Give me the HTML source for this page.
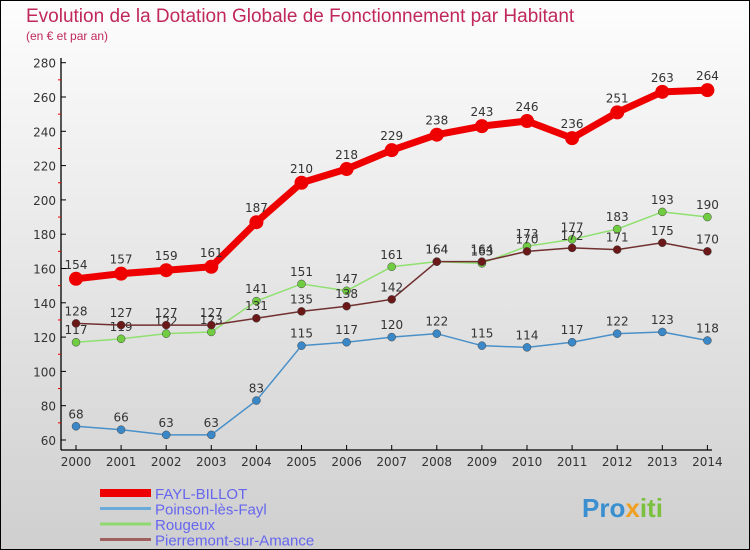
<!DOCTYPE html>
<html><head><meta charset="utf-8"><style>
body{margin:0}
#c{width:750px;height:550px;position:relative;box-sizing:border-box;border:1px solid #000;background:linear-gradient(#fdfdfd,#cfcfcf);font-family:"DejaVu Sans","Liberation Sans",sans-serif;overflow:hidden}
</style></head><body>
<div id="c">
<svg id="s" width="750" height="550" style="position:absolute;left:-1px;top:-1px">
<text x="26" y="22" font-size="19" fill="#c0285a" font-family="Liberation Sans, sans-serif">Evolution de la Dotation Globale de Fonctionnement par Habitant</text>
<text x="26" y="40" font-size="12" fill="#c0285a" font-family="Liberation Sans, sans-serif">(en € et par an)</text>
<text x="582" y="517" font-size="26" font-weight="bold" fill="#3a8fd0" font-family="Liberation Sans, sans-serif">Pro<tspan fill="#f0a020">x</tspan><tspan fill="#7cc040">iti</tspan></text>
</svg>
</div>
<script>
const years=[2000,2001,2002,2003,2004,2005,2006,2007,2008,2009,2010,2011,2012,2013,2014];
const fayl=[154,157,159,161,187,210,218,229,238,243,246,236,251,263,264];
const poinson=[68,66,63,63,83,115,117,120,122,115,114,117,122,123,118];
const rougeux=[117,119,122,123,141,151,147,161,164,163,173,177,183,193,190];
const pierre=[128,127,127,127,131,135,138,142,164,164,170,172,171,175,170];
const yTicks=[60,80,100,120,140,160,180,200,220,240,260,280];
const names=["FAYL-BILLOT","Poinson-lès-Fayl","Rougeux","Pierremont-sur-Amance"];
const s=document.getElementById('s');const NS='http://www.w3.org/2000/svg';
const X=i=>76+i*45.1, Y=v=>440-(v-60)*1.715;
function el(t,a,p){const e=document.createElementNS(NS,t);for(const k in a)e.setAttribute(k,a[k]);(p||s).appendChild(e);return e;}
let ax=el('line',{x1:61,y1:58,x2:61,y2:450,stroke:'#000','stroke-width':1.3});

let bx=el('line',{x1:61,y1:450,x2:712,y2:450,stroke:'#000','stroke-width':1.3});

yTicks.forEach(v=>{el('line',{x1:61,x2:66,y1:Y(v),y2:Y(v),stroke:'#000'});
 if(v<280)el('line',{x1:58,x2:61,y1:Y(v+10),y2:Y(v+10),stroke:'#e00'});
 const t=el('text',{x:56,y:Y(v)+5,'text-anchor':'end','font-size':12,fill:'#333'});t.textContent=v;
 });
years.forEach((y,i)=>{el('line',{x1:X(i),x2:X(i),y1:445,y2:450,stroke:'#000'});
 const t=el('text',{x:X(i),y:466,'text-anchor':'middle','font-size':12,fill:'#333'});t.textContent=y;
 });
const series=[[poinson,'#4a90c8','#3a88c8',1.5,4],[rougeux,'#90e070','#70cc40',1.5,4],[pierre,'#703030','#6a1818',1.5,4],[fayl,'#ee0000','#ee0000',7,7]];
const keys=['poinson','rougeux','pierremont','fayl'];
series.forEach(([d,c,pc,w,r],k)=>{
 const g=el('g',{});
 el('polyline',{points:d.map((v,i)=>X(i)+','+Y(v)).join(' '),fill:'none',stroke:c,'stroke-width':w,'stroke-linejoin':'round'},g);
 d.forEach((v,i)=>{const p=el('circle',{cx:X(i),cy:Y(v),r:r,fill:pc,stroke:k==3?'none':'#444','stroke-width':0.5},g);
  
  const t=el('text',{x:X(i),y:Y(v)-(k==3?10:8),'text-anchor':'middle','font-size':12,fill:'#333'},g);t.textContent=v;});
});
const lc=['#ee0000','#6aaad8','#90d870','#a06060'],lw=[8,3,3,3];
names.forEach((n,i)=>{const y=493+i*15.5;
 const l=el('line',{x1:100,x2:151,y1:y,y2:y,stroke:lc[i],'stroke-width':lw[i]});
 
 const t=el('text',{x:155,y:y+6,'font-size':15,fill:'#6666ee','font-family':'Liberation Sans, sans-serif'});t.textContent=n;
 });
</script>
</body></html>
